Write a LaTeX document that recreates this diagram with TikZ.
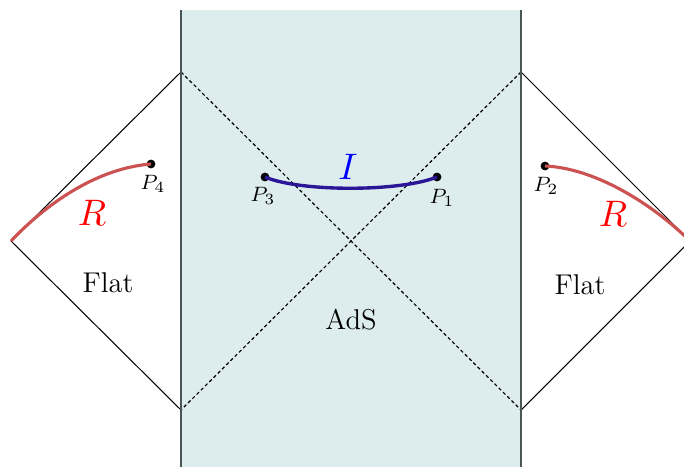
\documentclass[tikz,border=0pt]{standalone}
\usepackage{amsmath}

\definecolor{adsfill}{RGB}{221,236,236}
\definecolor{wallgray}{RGB}{72,86,86}
\definecolor{curvered}{RGB}{204,82,82}
\definecolor{curveblue}{RGB}{42,22,150}

\tikzset{
    pnt/.style={circle, fill=black, inner sep=0pt, minimum size=3.4pt},
    plabel/.style={font=\footnotesize},
    region/.style={font=\fontsize{11}{13}\selectfont},
    edge/.style={line width=0.4pt},
    horizon/.style={line width=0.45pt, dash pattern=on 1.3pt off 1pt},
    wall/.style={line width=0.8pt, wallgray},
    bigname/.style={scale=1.42}
}

\begin{document}
\begin{tikzpicture}[x=0.385pt, y=-0.385pt]
    \useasboundingbox (0,0) rectangle (684,467);
    \clip (0,0) rectangle (684,467);

    % AdS strip
    \fill[adsfill] (181,10) rectangle (521,467);
    \coordinate (wlt) at (181,10);
    \coordinate (wlb) at (181,467);
    \coordinate (wrt) at (521,10);
    \coordinate (wrb) at (521,467);

    % Corners of the two flat regions
    \coordinate (lt) at (181,72);
    \coordinate (lb) at (181,410);
    \coordinate (lv) at (11,241);
    \coordinate (rt) at (521,72);
    \coordinate (rb) at (521,410);
    \coordinate (rv) at (690,241);

    \draw[edge] (lt) -- (lv) -- (lb);
    \draw[edge] (rt) -- (rv) -- (rb);

    % Horizons
    \draw[horizon] (lt) -- (rb);
    \draw[horizon] (rt) -- (lb);

    % Walls
    \draw[wall] (wlt) -- (wlb);
    \draw[wall] (wrt) -- (wrb);

    % Points
    \node[pnt] (p4) at (151,164) {};
    \node[pnt] (p3) at (265,177) {};
    \node[pnt] (p1) at (437,177) {};
    \node[pnt] (p2) at (545,166) {};

    \node[plabel] (p4l) at (153,184) {$P_4$};
    \node[plabel] (p3l) at (263,196) {$P_3$};
    \node[plabel] (p1l) at (442,198) {$P_1$};
    \node[plabel] (p2l) at (546,186) {$P_2$};

    % Islands and radiation
    \draw[curveblue, line width=1.3pt] (p3.center) .. controls (300,192) and (400,192) .. (p1.center);
    \draw[curvered, line width=1.2pt] (lv) .. controls (50,200) and (100,168) .. (p4.center);
    \draw[curvered, line width=1.2pt] (p2.center) .. controls (592,168) and (648,200) .. (rv);

    \node[bigname, blue] (ilab) at (348,167) {$I$};
    \node[bigname, red] (rlabl) at (92,213) {$R$};
    \node[bigname, red] (rlabr) at (613,214) {$R$};

    \node[region] (flatl) at (108,283) {Flat};
    \node[region] (flatr) at (580,285) {Flat};
    \node[region] (ads) at (351,320) {AdS};
\end{tikzpicture}
\end{document}
